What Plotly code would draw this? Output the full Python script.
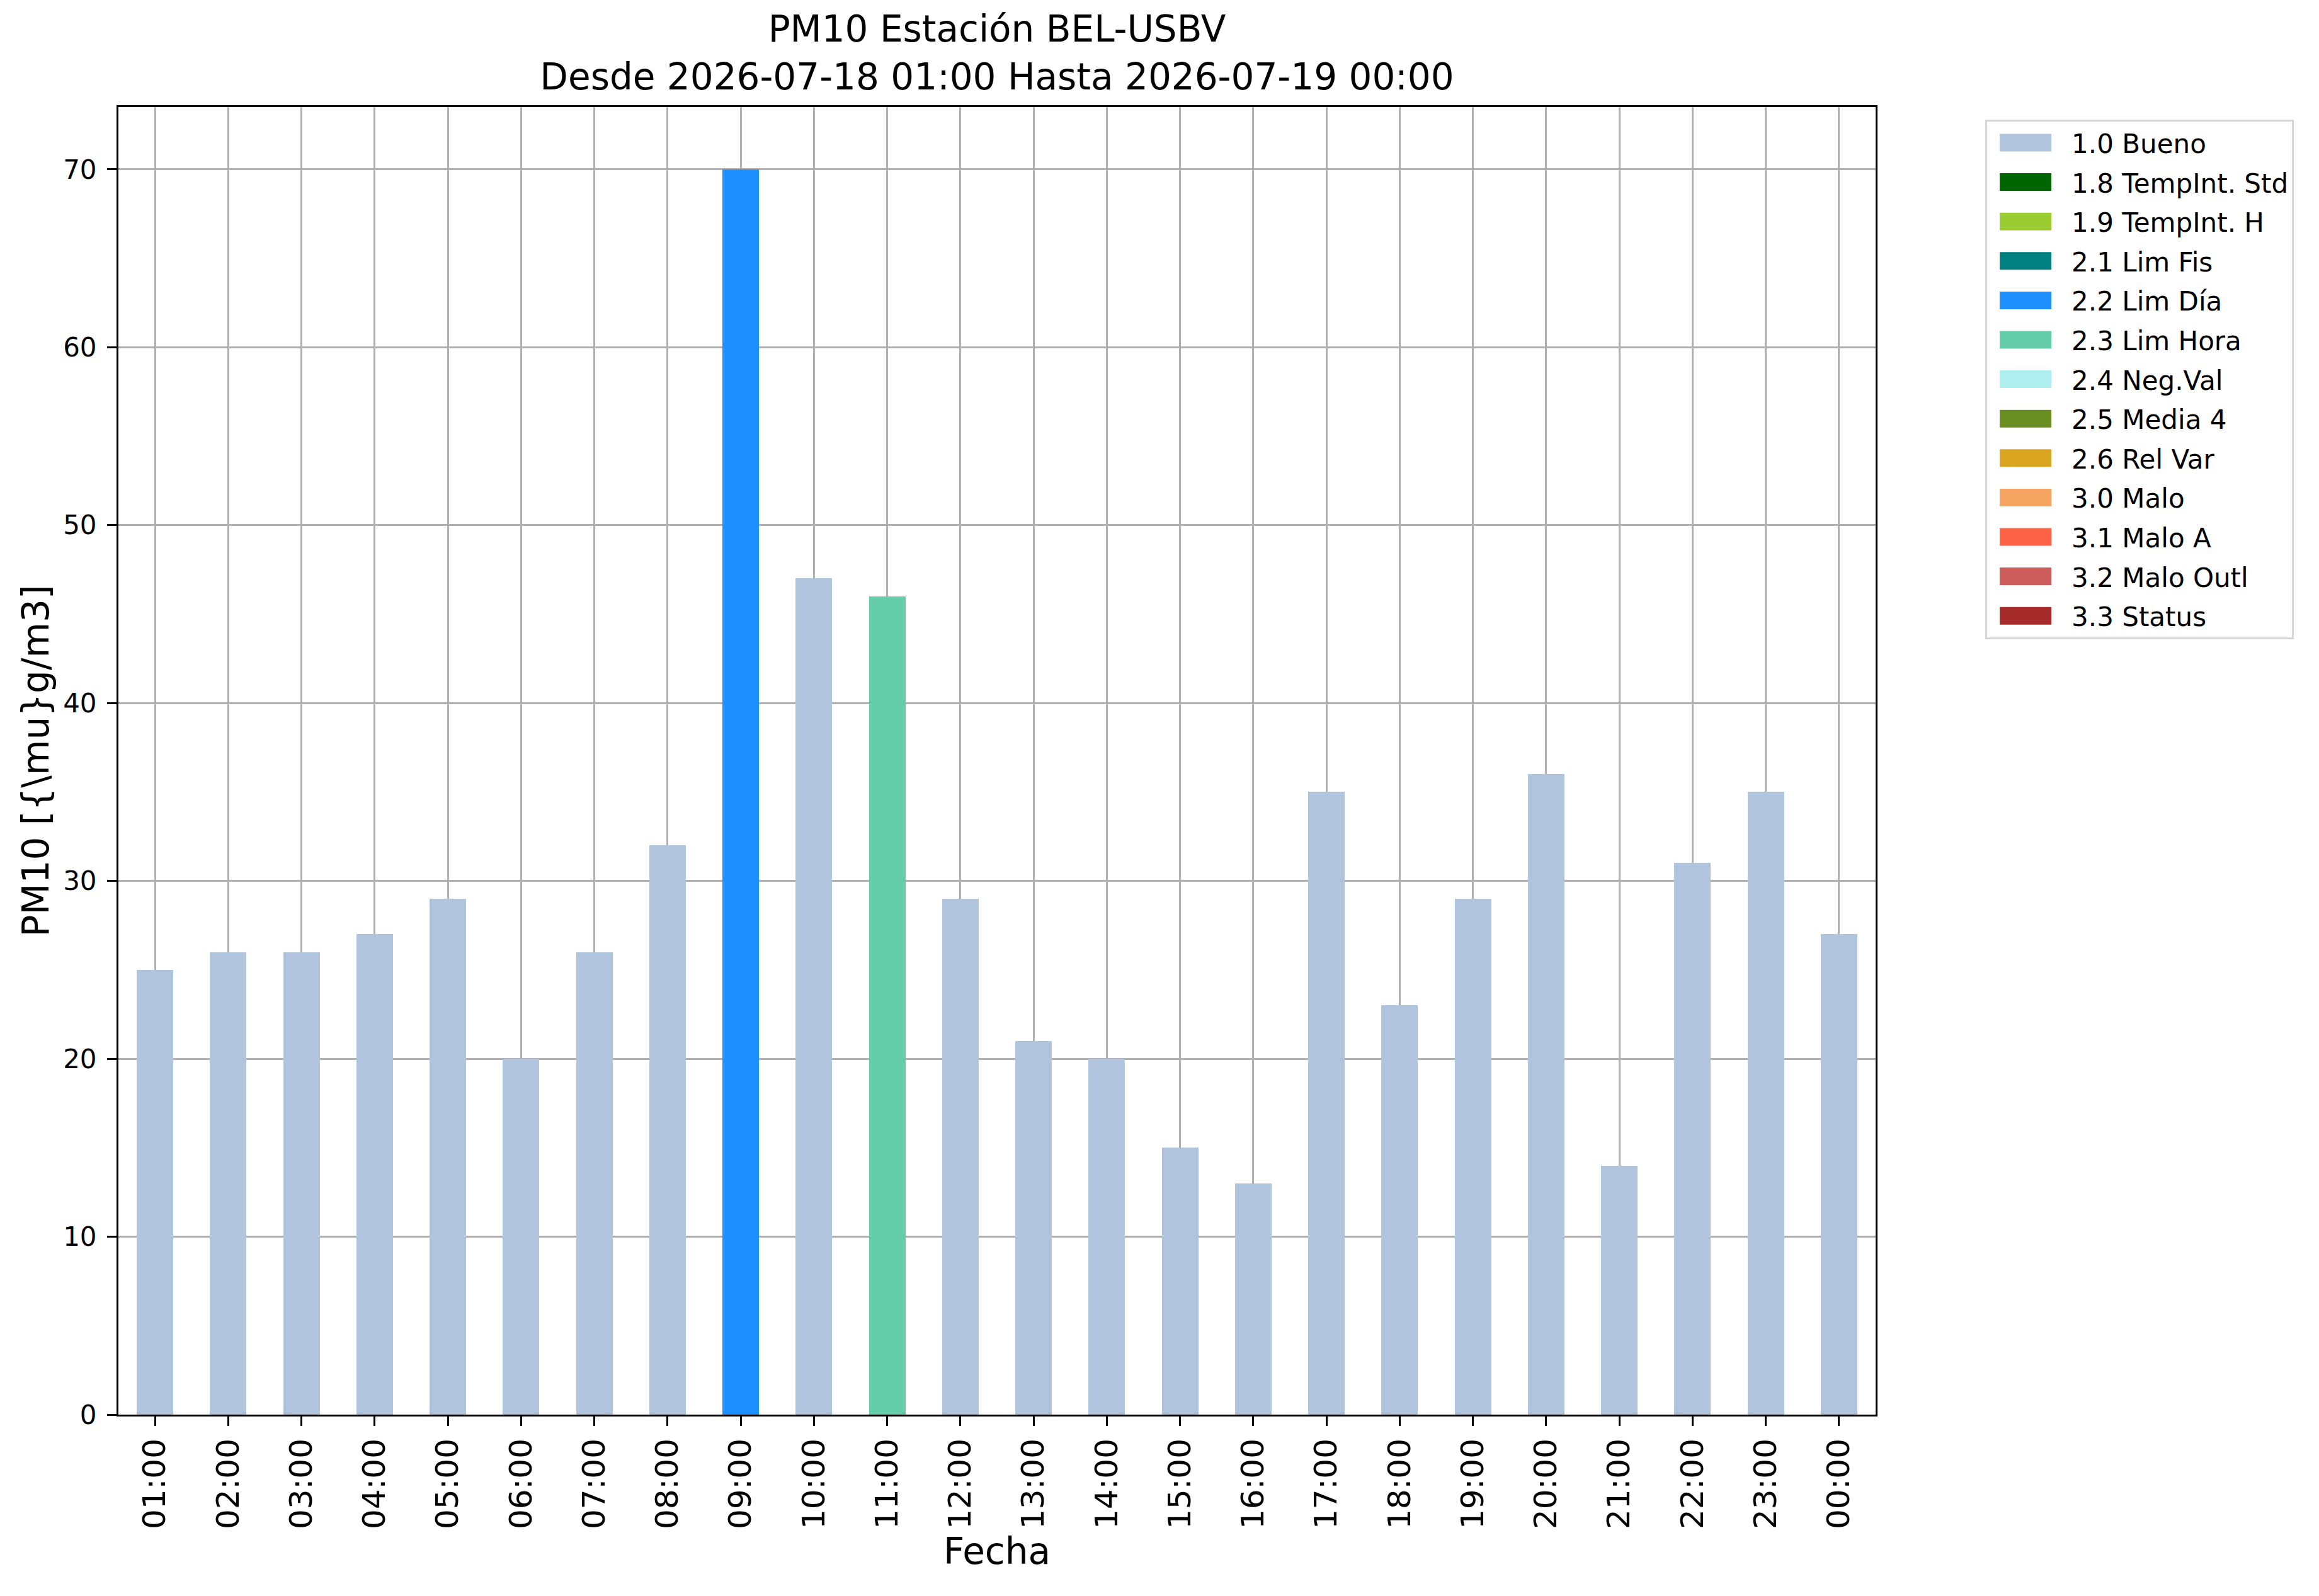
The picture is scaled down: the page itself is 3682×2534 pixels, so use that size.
import plotly.graph_objects as go

# hourly PM10 values and their validation flag
hours = ["01:00", "02:00", "03:00", "04:00", "05:00", "06:00", "07:00", "08:00",
         "09:00", "10:00", "11:00", "12:00", "13:00", "14:00", "15:00", "16:00",
         "17:00", "18:00", "19:00", "20:00", "21:00", "22:00", "23:00", "00:00"]
pm10 = [25, 26, 26, 27, 29, 20, 26, 32, 70, 47, 46, 29,
        21, 20, 15, 13, 35, 23, 29, 36, 14, 31, 35, 27]
flags = ["1.0", "1.0", "1.0", "1.0", "1.0", "1.0", "1.0", "1.0",
         "2.2", "1.0", "2.3", "1.0", "1.0", "1.0", "1.0", "1.0",
         "1.0", "1.0", "1.0", "1.0", "1.0", "1.0", "1.0", "1.0"]

# flag codes, legend names and colours
codes = ["1.0", "1.8", "1.9", "2.1", "2.2", "2.3", "2.4",
         "2.5", "2.6", "3.0", "3.1", "3.2", "3.3"]
names = ["1.0 Bueno", "1.8 TempInt. Std", "1.9 TempInt. H", "2.1 Lim Fis",
         "2.2 Lim Día", "2.3 Lim Hora", "2.4 Neg.Val", "2.5 Media 4",
         "2.6 Rel Var", "3.0 Malo", "3.1 Malo A", "3.2 Malo Outl", "3.3 Status"]
colors = ["#B0C4DE", "#006400", "#9ACD32", "#008080", "#1E90FF", "#66CDAA",
          "#AFEEEE", "#6B8E23", "#DAA520", "#F4A460", "#FF6347", "#CD5C5C",
          "#A52A2A"]

FONT = "DejaVu Sans"

fig = go.Figure()
for code, name, color in zip(codes, names, colors):
    y = [v if f == code else None for v, f in zip(pm10, flags)]
    fig.add_trace(go.Bar(
        x=hours, y=y, name=name, width=0.5,
        marker=dict(color=color, line=dict(width=0)),
        legendgroup=code,
    ))

axis_common = dict(
    showline=True, linecolor="black", linewidth=3, mirror=True,
    showgrid=True, gridcolor="#b0b0b0", gridwidth=3,
    ticks="outside", ticklen=15, tickwidth=3, tickcolor="black",
    zeroline=False, layer="above traces",
)

fig.update_layout(
    width=3682, height=2534,
    margin=dict(l=180, r=712, t=162, b=296),
    paper_bgcolor="white", plot_bgcolor="white",
    font=dict(family=FONT, color="black"),
    barmode="stack", bargap=0,
    title=dict(
        text="PM10 Estación BEL-USBV<br>Desde 2026-07-18 01:00 Hasta 2026-07-19 00:00",
        x=0.5, xref="paper", xanchor="center",
        y=0.977, yanchor="top",
        font=dict(size=58, family=FONT),
    ),
    xaxis=dict(
        axis_common, type="category", range=[-0.5, 23.5],
        tickangle=-90, tickfont=dict(size=50),
        title=dict(text="Fecha", font=dict(size=58), standoff=16),
    ),
    yaxis=dict(
        axis_common, range=[0, 73.5], dtick=10, tick0=0,
        tickfont=dict(size=42), ticklabelstandoff=8,
        title=dict(text="PM10 [{\\mu}g/m3]", font=dict(size=58), standoff=4),
    ),
    legend=dict(
        x=1.0624, y=0.9905, xanchor="left", yanchor="top",
        font=dict(size=42, family=FONT),
        bordercolor="#d6d6d6", borderwidth=3, bgcolor="white",
        traceorder="grouped", tracegroupgap=5,
        itemwidth=124,
    ),
)

# widen the legend swatches to look like matplotlib patches
post = """
var gd = document.getElementById('{plot_id}');
gd.querySelectorAll('.legend .legendpoints path').forEach(function(p) {
    p.setAttribute('d', 'M35,14H-47V-14H35Z');
});
"""

fig.write_html("out.html", post_script=post)
